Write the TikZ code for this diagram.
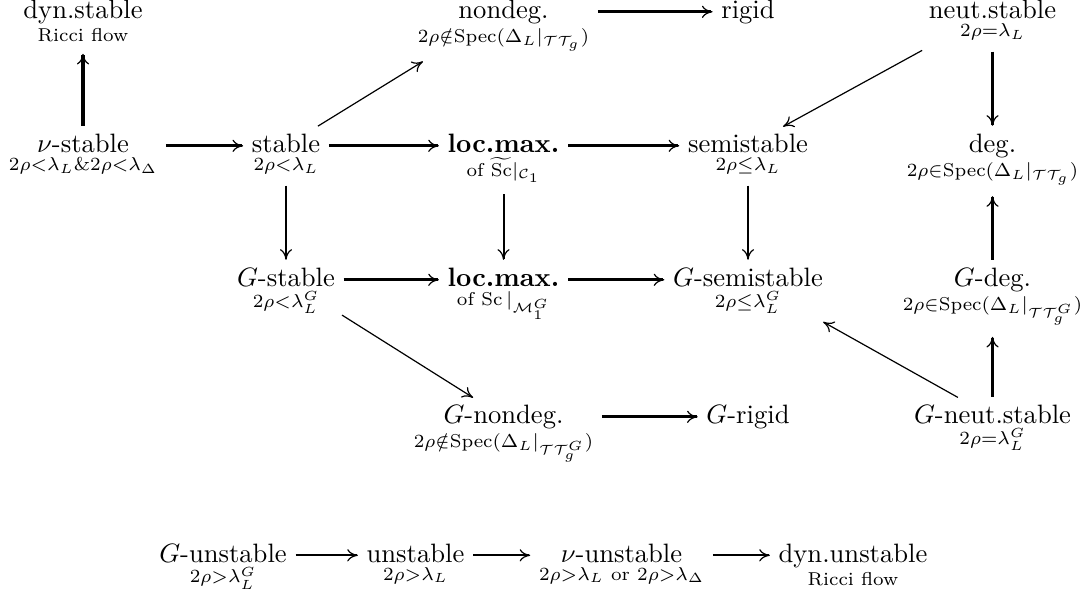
\documentclass[tikz,border=0pt]{standalone}
\usepackage{amsmath}
\usetikzlibrary{arrows.meta}
\newcommand\entry[2]{$\underset{#2}{\text{#1}}$}
\begin{document}
\begin{tikzpicture}[x=0.376pt,y=-0.376pt,
  ent/.style={anchor=base,inner sep=3.3pt,outer sep=0pt},
  tipped/.style={-{Computer Modern Rightarrow[line width=0.45pt,length=4pt,width=4.6pt]}},
  harr/.style={tipped,line width=1pt},
  barr/.style={tipped,line width=0.8pt},
  vthin/.style={tipped,line width=0.75pt},
  vthick/.style={tipped,line width=1.2pt},
  diag/.style={tipped,line width=0.45pt}]
\useasboundingbox (0,0) rectangle (1087,594);
\def\ax{2.7pt}
% row 1
\node[ent] (dyns) at (83,19) {\entry{dyn.stable}{\text{Ricci flow}}};
\node[ent] (nondeg) at (503.5,19) {\entry{nondeg.}{2\rho\notin\mathrm{Spec}(\Delta_L|_{\mathcal{T}\mathcal{T}_g})}};
\node[ent] (rigid) at (748,19) {rigid};
\node[ent] (neut) at (992.5,19) {\entry{neut.stable}{2\rho=\lambda_L}};
% row 2
\node[ent] (nu) at (83,153) {\entry{$\nu$-stable}{2\rho<\lambda_L\&2\rho<\lambda_\Delta}};
\node[ent] (stable) at (286,153) {\entry{stable}{2\rho<\lambda_L}};
\node[ent] (lm) at (503.5,153) {\entry{\textbf{loc.max.}}{\text{of }\widetilde{\mathrm{Sc}}|_{\mathcal{C}_1}}};
\node[ent] (semi) at (748,153) {\entry{semistable}{2\rho\leq\lambda_L}};
\node[ent] (deg) at (992.5,153) {\entry{deg.}{2\rho\in\mathrm{Spec}(\Delta_L|_{\mathcal{T}\mathcal{T}_g})}};
% row 3
\node[ent] (Gstable) at (286,287) {\entry{$G$-stable}{2\rho<\lambda^G_L}};
\node[ent] (Glm) at (503.5,287) {\entry{\textbf{loc.max.}}{\text{of }\mathrm{Sc}\,|_{\mathcal{M}^G_1}}};
\node[ent] (Gsemi) at (748,287) {\entry{$G$-semistable}{2\rho\leq\lambda^G_L}};
\node[ent] (Gdeg) at (992.5,287) {\entry{$G$-deg.}{2\rho\in\mathrm{Spec}(\Delta_L|_{\mathcal{T}\mathcal{T}^G_g})}};
% row 4
\node[ent] (Gnondeg) at (503.5,424) {\entry{$G$-nondeg.}{2\rho\notin\mathrm{Spec}(\Delta_L|_{\mathcal{T}\mathcal{T}^G_g})}};
\node[ent] (Grigid) at (748,424) {$G$-rigid};
\node[ent] (Gneut) at (992.5,424) {\entry{$G$-neut.stable}{2\rho=\lambda^G_L}};
% bottom row
\node[ent] (Gun) at (223,562.5) {\entry{$G$-unstable}{2\rho>\lambda^G_L}};
\node[ent] (un) at (415.5,562.5) {\entry{unstable}{2\rho>\lambda_L}};
\node[ent] (nuun) at (621.5,562.5) {\entry{$\nu$-unstable}{2\rho>\lambda_L\text{ or }2\rho>\lambda_\Delta}};
\node[ent] (dynun) at (853,562.5) {\entry{dyn.unstable}{\text{Ricci flow}}};
% horizontal arrows
\draw[harr] ([yshift=\ax]nondeg.base east) -- ([yshift=\ax]rigid.base west);
\draw[harr] ([yshift=\ax]nu.base east) -- ([yshift=\ax]stable.base west);
\draw[harr] ([yshift=\ax]stable.base east) -- ([yshift=\ax]lm.base west);
\draw[harr] ([yshift=\ax]lm.base east) -- ([yshift=\ax]semi.base west);
\draw[harr] ([yshift=\ax]Gstable.base east) -- ([yshift=\ax]Glm.base west);
\draw[harr] ([yshift=\ax]Glm.base east) -- ([yshift=\ax]Gsemi.base west);
\draw[harr] ([yshift=\ax]Gnondeg.base east) -- ([yshift=\ax]Grigid.base west);
\draw[barr] ([yshift=\ax]Gun.base east) -- ([yshift=\ax]un.base west);
\draw[barr] ([yshift=\ax]un.base east) -- ([yshift=\ax]nuun.base west);
\draw[barr] ([yshift=\ax]nuun.base east) -- ([yshift=\ax]dynun.base west);
% vertical arrows
\draw[vthick] (nu.north) -- (dyns.south);
\draw[vthick] (neut.south) -- (deg.north);
\draw[vthick] (Gdeg.north) -- (deg.south);
\draw[vthick] (Gneut.north) -- (Gdeg.south);
\draw[vthin] (stable.south) -- (Gstable.north);
\draw[vthin] (lm.south) -- (Glm.north);
\draw[vthin] (semi.south) -- (Gsemi.north);
% diagonal arrows
\draw[diag,shorten <=14.1pt,shorten >=35.6pt] ([yshift=\ax]stable.base) -- ([yshift=\ax]nondeg.base);
\draw[diag,shorten <=30.2pt,shorten >=15pt] ([yshift=\ax]neut.base) -- ([yshift=\ax]semi.base);
\draw[diag,shorten <=24.9pt,shorten >=13.5pt] ([yshift=\ax]Gstable.base) -- ([yshift=\ax]Gnondeg.base);
\draw[diag,shorten <=14.9pt,shorten >=32.4pt] ([yshift=\ax]Gneut.base) -- ([yshift=\ax]Gsemi.base);
\end{tikzpicture}
\end{document}
